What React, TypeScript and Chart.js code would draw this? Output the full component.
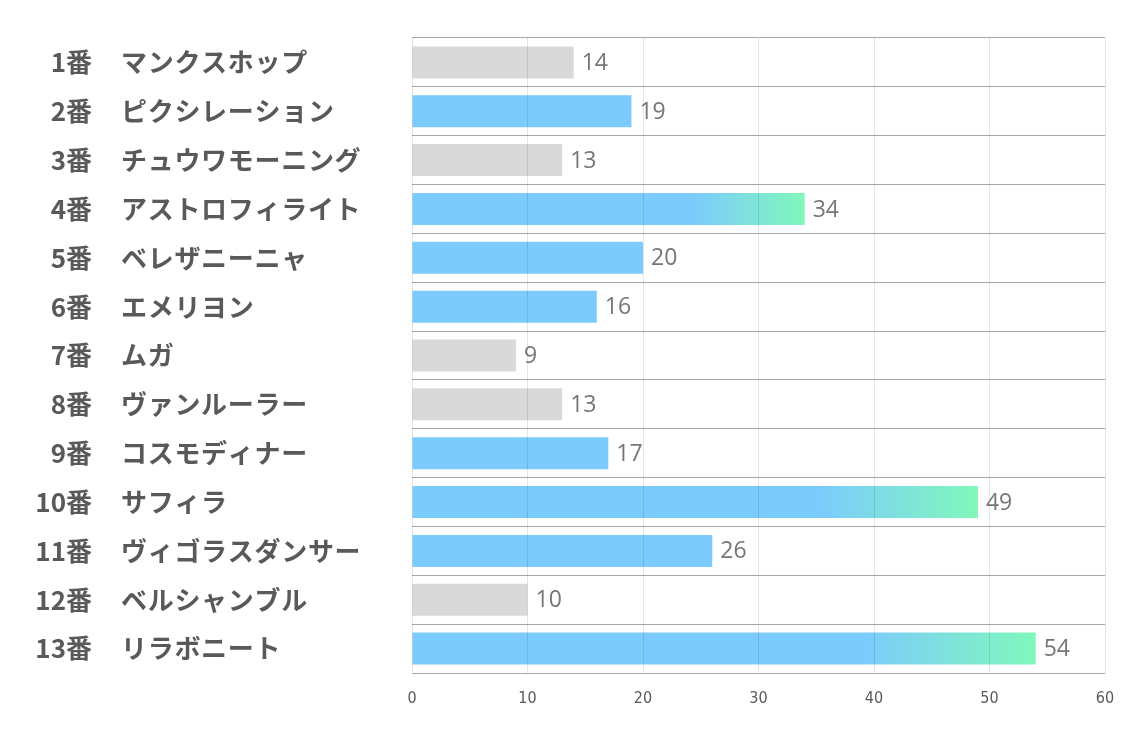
import React, { useEffect, useRef } from "react";
import { Chart, registerables } from "chart.js";

Chart.register(...registerables);

const numbers = ["1番", "2番", "3番", "4番", "5番", "6番", "7番", "8番", "9番", "10番", "11番", "12番", "13番"];
const horses = [
  "マンクスホップ",
  "ピクシレーション",
  "チュウワモーニング",
  "アストロフィライト",
  "ベレザニーニャ",
  "エメリヨン",
  "ムガ",
  "ヴァンルーラー",
  "コスモディナー",
  "サフィラ",
  "ヴィゴラスダンサー",
  "ベルシャンブル",
  "リラボニート",
];
const values = [14, 19, 13, 34, 20, 16, 9, 13, 17, 49, 26, 10, 54];
// 0 = gray, 1 = blue, 2 = blue→green gradient
const kinds = [0, 1, 0, 2, 1, 1, 0, 0, 1, 2, 1, 0, 2];
const xTicks = [0, 10, 20, 30, 40, 50, 60];

const GRAY = "#d9d9d9";
const BLUE = "#7ccbfd";
const GREEN = "#80f8bb";

const labelsPlugin = {
  id: "sideLabels",
  afterDraw(chart: any) {
    const ctx = chart.ctx;
    const y = chart.scales.y;
    const x = chart.scales.x;
    ctx.save();
    ctx.textBaseline = "middle";
    ctx.fillStyle = "#595959";
    ctx.font = 'bold 26px "Noto Sans CJK JP"';
    numbers.forEach((n, i) => {
      const py = y.getPixelForValue(i);
      ctx.textAlign = "right";
      (ctx as any).letterSpacing = "0px";
      ctx.fillText(n, 92, py);
      ctx.textAlign = "left";
      (ctx as any).letterSpacing = "0.7px";
      ctx.fillText(horses[i], 121, py);
    });
    (ctx as any).letterSpacing = "0px";
    ctx.font = '23px "Open Sans"';
    ctx.fillStyle = "#767676";
    ctx.textAlign = "left";
    values.forEach((v, i) => {
      const py = y.getPixelForValue(i);
      const px = x.getPixelForValue(v);
      ctx.fillText(String(v), px + 8, py + 1);
    });
    ctx.restore();
  },
};

export default function App() {
  const ref = useRef<HTMLCanvasElement | null>(null);
  useEffect(() => {
    document.body.style.margin = "0";
    const canvas = ref.current!;
    const chart = new Chart(canvas, {
      type: "bar",
      data: {
        labels: horses,
        datasets: [
          {
            data: values,
            backgroundColor: (c: any) => {
              const i = c.dataIndex;
              const k = kinds[i];
              if (k === 0) return GRAY;
              if (k === 1) return BLUE;
              const ch = c.chart;
              if (!ch.chartArea || !ch.scales.x) return BLUE;
              const x0 = ch.scales.x.getPixelForValue(0);
              const x1 = ch.scales.x.getPixelForValue(values[i]);
              const g = ch.ctx.createLinearGradient(x0, 0, x1, 0);
              g.addColorStop(0, BLUE);
              g.addColorStop(0.72, BLUE);
              g.addColorStop(1, GREEN);
              return g;
            },
            borderWidth: 0,
            categoryPercentage: 1,
            barPercentage: 0.655,
          },
        ],
      },
      options: {
        indexAxis: "y",
        responsive: false,
        maintainAspectRatio: false,
        animation: false,
        events: [],
        layout: { padding: { top: 38, right: 29, left: 0, bottom: 24 } },
        plugins: { legend: { display: false }, tooltip: { enabled: false } },
        scales: {
          x: {
            min: 0,
            max: 60,
            afterBuildTicks: (s: any) => {
              s.ticks = xTicks.map((v) => ({ value: v }));
            },
            afterFit: (s: any) => {
              s.height = 40;
            },
            grid: { color: "rgba(0,0,0,0.1)", drawTicks: false, z: 1 },
            border: { display: false },
            ticks: {
              padding: 16,
              color: "#595959",
              font: { family: '"Liberation Sans Narrow", "DejaVu Sans Condensed", sans-serif', size: 16 },
            },
          },
          y: {
            afterFit: (s: any) => {
              s.width = 412;
            },
            grid: { color: "#a6a6a6", drawTicks: false, offset: true },
            border: { display: false },
            ticks: { display: false },
          },
        },
      },
      plugins: [labelsPlugin],
    } as any);
    return () => chart.destroy();
  }, []);
  return (
    <div style={{ width: 1134, height: 737, background: "#fff" }}>
      <canvas ref={ref} width={1134} height={737} style={{ display: "block" }} />
    </div>
  );
}
